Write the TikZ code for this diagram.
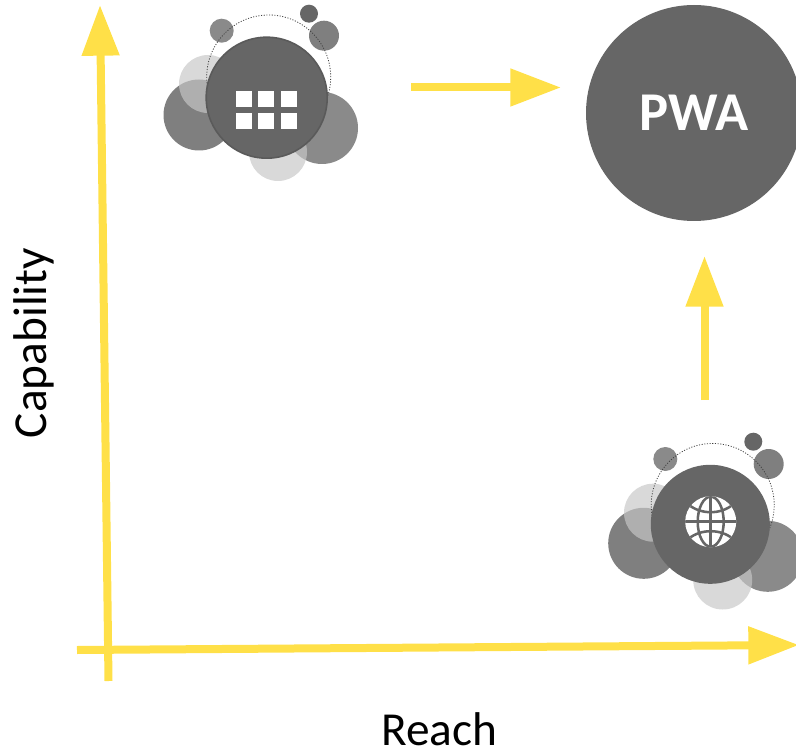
\documentclass[tikz,border=0pt]{standalone}
\usepackage{fontspec}
\setmainfont{Carlito}
\usetikzlibrary{arrows.meta}
\definecolor{axisyellow}{HTML}{FFE048}
\definecolor{bigdark}{HTML}{666666}
\definecolor{bigedge}{HTML}{5A5A5A}
\definecolor{middark}{HTML}{7F7F7F}
\definecolor{midgrey}{HTML}{8A8A8A}
\definecolor{lightgrey}{HTML}{C7C7C7}
\tikzset{
  yarrow/.style={draw=axisyellow,line width=6pt,-{Triangle[length=38pt,width=27pt,fill=axisyellow]}},
  blob/.style={circle,inner sep=0pt,outer sep=0pt,minimum size=#1*.75pt},
  lightblob/.style={fill=lightgrey,fill opacity=.68},
  dots/.style={draw=black!75,line width=.6pt,dash pattern=on .8pt off 1.2pt},
  axislabel/.style={font=\fontsize{35.5pt}{40pt}\selectfont,text=black,inner sep=0pt,anchor=base},
  tile/.style={fill=white,draw=none,inner sep=0pt,minimum size=12pt},
  gridline/.style={draw=bigdark,line width=1.9pt}
}
\begin{document}
\begin{tikzpicture}[x=.75pt,y=-.75pt]
\useasboundingbox (0,0) rectangle (796,752);
\clip (0,0) rectangle (796,752);
% axes
\coordinate (ya) at (108.5,681); \coordinate (yb) at (100,5);
\coordinate (xa) at (77,650); \coordinate (xb) at (799,645);
\draw[yarrow] (ya) -- (yb);
\draw[yarrow] (xa) -- (xb);
% top-left cluster
\node[blob=71,fill=middark] (a1) at (199,115) {};
\node[blob=72,fill=midgrey] (a2) at (322,128) {};
\node[blob=58,lightblob] (a3) at (208,84) {};
\node[blob=58,lightblob] (a4) at (278,152) {};
\node[blob=24,fill=midgrey] (a5) at (221.7,30.7) {};
\node[blob=30,fill=middark] (a6) at (324,35.7) {};
\node[blob=18,fill=bigdark] (a7) at (309,13.7) {};
\node[blob=124,dots] (a8) at (268.7,77) {};
\node[blob=121,fill=bigdark,draw=bigedge,line width=1.2pt] (a9) at (266.7,97.7) {};
\foreach \n/\x/\y in {t1/244/99,t2/266/99,t3/289/99,t4/244/121,t5/266/121,t6/289/121}
  \node[tile] (\n) at (\x,\y) {};
% bottom-right cluster
\node[blob=71,fill=middark] (b1) at (643.7,543.3) {};
\node[blob=71,fill=midgrey] (b2) at (767.7,556.3) {};
\node[blob=58,lightblob] (b3) at (653,512.7) {};
\node[blob=59,lightblob] (b4) at (722.7,580) {};
\node[blob=24,fill=midgrey] (b5) at (665.3,459) {};
\node[blob=30,fill=middark] (b6) at (768.7,464) {};
\node[blob=18,fill=bigdark] (b7) at (753.3,441.7) {};
\node[blob=123,dots] (b8) at (712.7,505) {};
\node[blob=119,fill=bigdark] (b9) at (710.3,524.3) {};
% globe
\node[blob=51,fill=white] (g) at (710.7,521.7) {};
\begin{scope}[shift={(710.7,521.7)}]
\clip (0,0) circle[radius=25.5];
\draw[gridline] (0,-25.5) -- (0,25.5);
\draw[gridline] (-25.5,0) -- (25.5,0);
\draw[gridline] (0,0) ellipse[x radius=13,y radius=25];
\draw[gridline] (-22,-17) .. controls (-10,-7) and (10,-7) .. (22,-17);
\draw[gridline] (-22,17) .. controls (-10,7) and (10,7) .. (22,17);
\end{scope}
% PWA
\node[blob=216,fill=bigdark,text=white,font=\fontsize{41pt}{46pt}\selectfont\bfseries] (pwa) at (694,113) {\raisebox{-1pt}{PWA}};
% arrows between
\coordinate (c1) at (411,87.5); \coordinate (c2) at (561,87.5);
\coordinate (c3) at (704.5,400); \coordinate (c4) at (704.5,256);
\draw[yarrow] (c1) -- (c2);
\draw[yarrow] (c3) -- (c4);
% labels
\node[axislabel,rotate=90] (cap) at (46,343) {Capability};
\node[axislabel] (reach) at (439.5,745) {Reach};
\end{tikzpicture}
\end{document}
